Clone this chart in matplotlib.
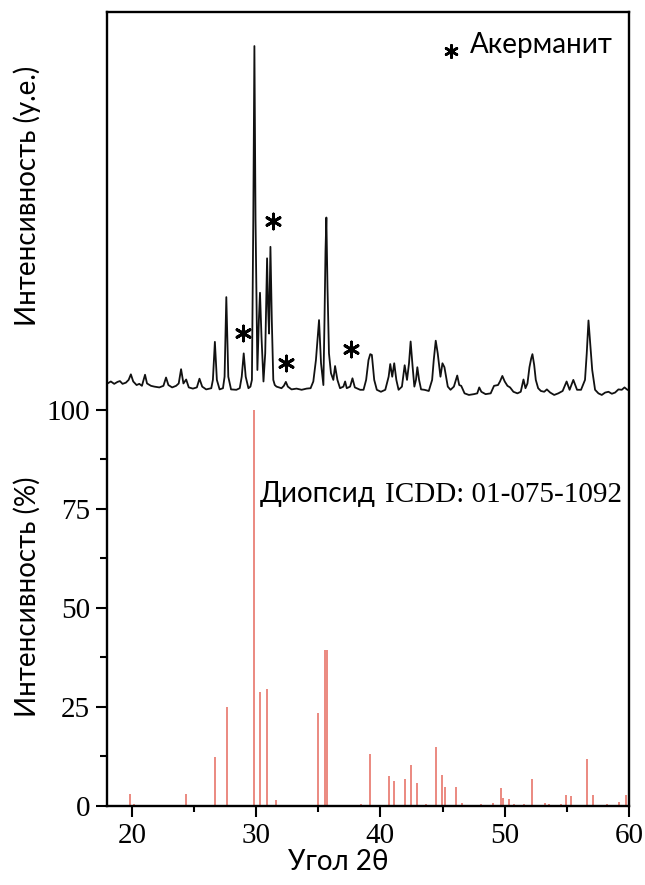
import matplotlib
matplotlib.use("Agg")
import matplotlib.pyplot as plt
from matplotlib.ticker import MultipleLocator, FixedLocator

# ---------------- data ----------------
spec_theta = [18.04, 18.31, 18.58, 18.85, 19.04, 19.25, 19.52, 19.74, 19.92, 20.11,
              20.38, 20.60, 20.81, 21.06, 21.22, 21.54, 21.81, 22.21, 22.54, 22.75,
              22.94, 23.24, 23.56, 23.77, 23.96, 24.15, 24.37, 24.58, 24.91, 25.23,
              25.44, 25.66, 25.98, 26.39, 26.52, 26.68, 26.84, 27.06, 27.33, 27.46,
              27.60, 27.76, 27.98, 28.41, 28.68, 28.84, 29.00, 29.16, 29.38, 29.54,
              29.66, 29.77, 29.86, 29.95, 30.10, 30.22, 30.31, 30.43, 30.59, 30.73,
              30.88, 30.96, 31.04, 31.15, 31.26, 31.38, 31.50, 31.64, 32.04, 32.23,
              32.39, 32.55, 32.85, 33.25, 33.66, 34.06, 34.38, 34.60, 34.81, 35.06,
              35.22, 35.41, 35.50, 35.58, 35.65, 35.74, 35.86, 36.02, 36.21, 36.35,
              36.54, 36.75, 37.02, 37.16, 37.29, 37.56, 37.75, 37.94, 38.37, 38.64,
              38.85, 39.04, 39.18, 39.31, 39.50, 39.71, 40.04, 40.39, 40.66, 40.79,
              40.95, 41.11, 41.28, 41.46, 41.73, 41.95, 42.14, 42.30, 42.43, 42.59,
              42.73, 42.86, 42.97, 43.11, 43.27, 43.54, 43.89, 44.16, 44.29, 44.45,
              44.61, 44.83, 44.99, 45.15, 45.42, 45.64, 45.91, 46.18, 46.34, 46.50,
              46.77, 47.12, 47.52, 47.79, 47.95, 48.12, 48.46, 48.87, 49.14, 49.46,
              49.62, 49.81, 50.00, 50.22, 50.43, 50.70, 51.02, 51.29, 51.51, 51.67,
              51.83, 51.99, 52.13, 52.23, 52.37, 52.50, 52.69, 52.91, 53.18, 53.39,
              53.66, 53.98, 54.31, 54.66, 54.98, 55.22, 55.52, 55.82, 56.14, 56.46,
              56.60, 56.74, 56.88, 57.04, 57.27, 57.54, 57.81, 58.08, 58.35, 58.62,
              58.88, 59.15, 59.42, 59.64, 59.83, 60.00]
spec_int = [6.7, 7.2, 6.6, 7.1, 7.3, 6.6, 6.9, 7.6, 9.0, 7.2,
            6.3, 6.6, 6.1, 8.9, 6.7, 6.1, 5.9, 5.7, 6.1, 8.2,
            6.3, 5.7, 6.1, 6.7, 10.3, 6.7, 7.7, 5.7, 5.4, 5.7,
            7.9, 5.9, 5.2, 5.5, 7.6, 17.2, 7.6, 5.2, 5.5, 8.4,
            28.5, 8.4, 5.2, 5.1, 5.5, 8.4, 14.3, 8.4, 5.5, 5.9,
            7.6, 48.0, 91.9, 48.0, 10.1, 22.7, 29.6, 18.5, 7.2, 14.3,
            38.3, 26.1, 19.3, 41.2, 22.7, 7.6, 6.3, 5.9, 5.5, 6.1,
            7.1, 5.9, 5.2, 5.4, 5.1, 5.4, 5.5, 7.2, 12.6, 22.7,
            11.8, 6.3, 22.7, 40.0, 48.6, 31.1, 14.3, 9.3, 7.6, 11.1,
            7.6, 5.5, 5.9, 7.2, 5.5, 5.9, 8.0, 5.7, 5.1, 5.1,
            7.6, 12.6, 14.1, 13.9, 7.6, 5.1, 4.6, 5.1, 8.4, 11.6,
            8.4, 11.8, 7.6, 5.1, 5.9, 11.3, 7.6, 11.8, 17.3, 10.9,
            5.9, 7.6, 10.8, 7.6, 5.2, 5.1, 4.8, 7.6, 12.6, 17.5,
            14.3, 8.4, 11.8, 10.8, 5.9, 5.1, 5.9, 8.7, 6.3, 6.1,
            4.2, 3.8, 4.0, 4.2, 5.7, 4.6, 4.0, 4.2, 6.1, 6.3,
            7.2, 8.6, 7.2, 6.1, 5.7, 4.6, 4.2, 4.6, 7.7, 5.5,
            6.7, 10.8, 13.0, 14.1, 11.4, 7.6, 5.5, 4.8, 4.6, 5.2,
            4.4, 3.8, 4.2, 4.8, 7.2, 5.1, 7.6, 5.1, 5.1, 7.6,
            14.3, 22.6, 16.8, 10.1, 5.1, 4.2, 3.8, 4.4, 4.6, 4.1,
            4.4, 5.2, 5.1, 5.7, 5.2, 4.9]

# Reference pattern: diopside ICDD 01-075-1092 (2theta, relative intensity %)
ref_theta = [19.89, 20.14, 24.33, 26.67, 27.64, 29.83, 30.33, 30.89, 31.58, 35.00,
             35.53, 35.72, 37.72, 38.47, 39.19, 40.69, 41.06, 41.97, 42.42, 42.92,
             43.64, 44.44, 44.97, 45.22, 46.11, 46.53, 48.06, 49.03, 49.72, 49.86,
             50.36, 50.75, 51.58, 52.19, 53.25, 53.56, 54.53, 54.92, 55.36, 56.61,
             57.08, 58.19, 59.22, 59.72]
ref_int = [3.1, 0.6, 3.1, 12.4, 25.0, 100.0, 28.8, 29.5, 1.4, 23.5,
           39.4, 39.4, 0.3, 0.4, 13.2, 7.6, 6.3, 6.7, 10.3, 5.7,
           0.6, 14.9, 7.8, 4.9, 4.8, 0.8, 0.6, 0.7, 4.6, 2.1,
           1.8, 0.4, 0.4, 6.7, 0.8, 0.4, 0.6, 2.9, 2.4, 11.8,
           2.7, 0.4, 1.1, 2.7]

# Akermanite peak markers (2theta, height in a.u. on the measured pattern)
aker_theta = [28.92, 31.37, 32.44, 37.64]
aker_int = [19.4, 47.7, 11.8, 15.4]

spec_offset = 100.0
yticks_major = [0, 25, 50, 75, 100]
yticks_minor = [12.5, 37.5, 62.5, 87.5]
xticks_major = [20, 30, 40, 50, 60]

SANS = ["Lato", "DejaVu Sans"]
SERIF = ["Liberation Serif", "DejaVu Serif"]
STAR = (6, 2, 0)

fig = plt.figure(figsize=(6.45, 8.85), dpi=100)
ax = fig.add_axes([107 / 645, 79 / 885, 522 / 645, 794 / 885])

ax.vlines(ref_theta, 0, ref_int, color="#e8766b", linewidth=1.2)
ax.plot(spec_theta, [v + spec_offset for v in spec_int], color="#111111", linewidth=1.3)

ax.scatter(aker_theta, [v + spec_offset for v in aker_int], marker=STAR, s=115,
           color="black", linewidths=2.1)

ax.scatter([45.64], [90.6 + spec_offset], marker=STAR, s=80, color="black", linewidths=1.9)
ax.text(47.2, 92.2 + spec_offset, "Акерманит", fontsize=20, family=SANS, ha="left", va="center")

ax.text(30.33, 76.8, "Диопсид", fontsize=20, family=SANS, ha="left", va="baseline")
ax.text(40.35, 76.8, "ICDD: 01-075-1092", fontsize=21, family=SERIF, ha="left", va="baseline")

ax.set_xlim(18, 60)
ax.set_ylim(0, 200.5)
ax.set_xticks(xticks_major)
ax.xaxis.set_minor_locator(MultipleLocator(5))
ax.yaxis.set_major_locator(FixedLocator(yticks_major))
ax.yaxis.set_minor_locator(FixedLocator(yticks_minor))
ax.tick_params(axis="both", which="major", direction="out", length=8, width=1.5, labelsize=21, pad=4)
ax.tick_params(axis="y", which="minor", direction="out", length=5, width=1.5)
ax.tick_params(axis="x", which="minor", direction="out", length=4, width=1.5)
for lab in ax.get_xticklabels() + ax.get_yticklabels():
    lab.set_family(SERIF)
for s in ax.spines.values():
    s.set_linewidth(1.7)

fig.text(27 / 645, 1 - 196 / 885, "Интенсивность (у.е.)", rotation=90, fontsize=20,
         family=SANS, ha="center", va="center")
fig.text(27 / 645, 1 - 597 / 885, "Интенсивность (%)", rotation=90, fontsize=20,
         family=SANS, ha="center", va="center")
fig.text(338 / 645, 1 - 862 / 885, "Угол 2θ", fontsize=20, family=SANS, ha="center", va="center")

fig.savefig("out.png", dpi=100)
